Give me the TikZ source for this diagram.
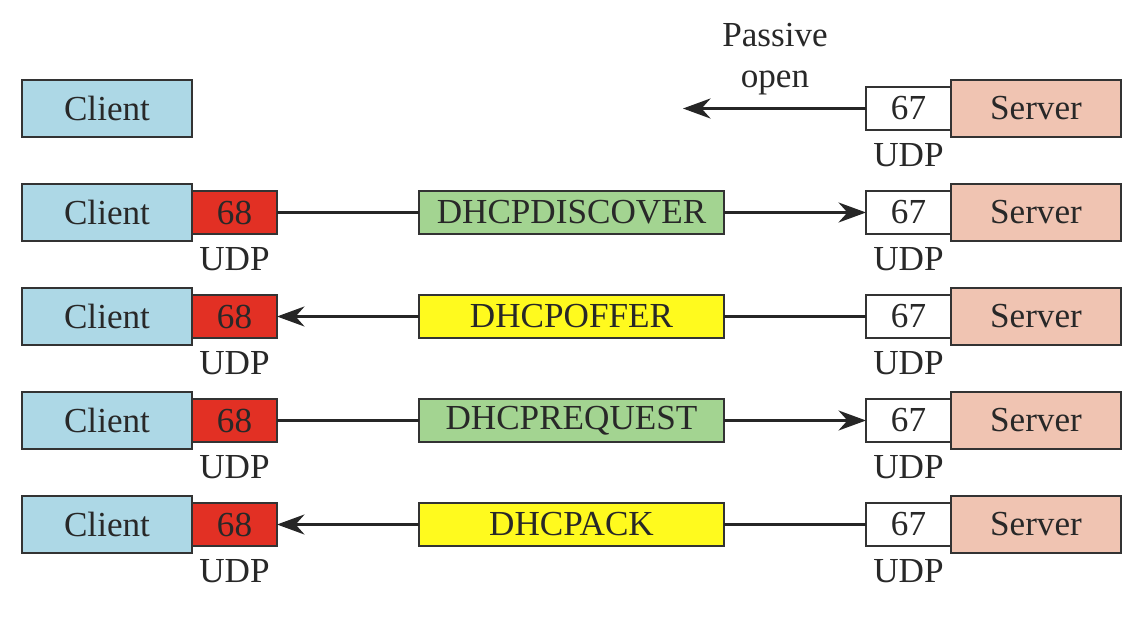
\documentclass[tikz,border=0pt]{standalone}
\usepackage{fontspec}
\setmainfont{Liberation Serif}
\usepackage{tikz}
\usetikzlibrary{arrows.meta,positioning}
\definecolor{clientblue}{RGB}{173,216,230}
\definecolor{serverpink}{RGB}{240,196,178}
\definecolor{portred}{RGB}{226,48,36}
\definecolor{msggreen}{RGB}{163,212,145}
\definecolor{msgyellow}{RGB}{255,250,30}
\definecolor{txt}{RGB}{40,40,40}
\tikzstyle{box}=[draw=black!80,line width=1.2pt,outer sep=0pt,inner sep=0pt,text=txt,font=\fontsize{20}{23}\selectfont]
\tikzstyle{client}=[box,fill=clientblue,minimum width=3.4cm,minimum height=1.14cm]
\tikzstyle{server}=[box,fill=serverpink,minimum width=3.4cm,minimum height=1.14cm]
\tikzstyle{cport}=[box,fill=portred,minimum width=1.7cm,minimum height=0.86cm]
\tikzstyle{sport}=[box,fill=white,minimum width=1.7cm,minimum height=0.86cm]
\tikzstyle{msg}=[box,minimum width=6.1cm,minimum height=0.86cm]
\tikzstyle{udp}=[inner sep=3pt,text=txt,font=\fontsize{20}{23}\selectfont]
\tikzstyle{wire}=[line width=1.6pt,draw=black!85]
\tikzstyle{post}=[wire,-{Stealth[length=0.55cm,width=0.4cm]}]

\begin{document}
\begin{tikzpicture}
        \useasboundingbox (0,0) rectangle (22.88,-12.36);
        % passive open
        \node (C0) [client] at (2.14,-2.17) {Client};
        \node (S0) [server] at (20.72,-2.17) {Server};
        \node (P0) [sport] [left=0pt of S0] {67};
        \node (U0) [udp] [below=4.5pt of P0] {UDP};
        \node (PO) [udp, align=center] at (15.5,-1.18) {Passive\\open};
        \coordinate (E0) at (13.66,-2.17);
        \draw[post, line width=2pt] (P0) -- (E0);

        % DHCPDISCOVER
        \node (C1) [client] at (2.14,-4.25) {Client};
        \node (Q1) [cport] [right=0pt of C1] {68};
        \node (V1) [udp] [below=4.5pt of Q1] {UDP};
        \node (M1) [msg, fill=msggreen] at (11.43,-4.25) {DHCPDISCOVER};
        \node (S1) [server] at (20.72,-4.25) {Server};
        \node (P1) [sport] [left=0pt of S1] {67};
        \node (U1) [udp] [below=4.5pt of P1] {UDP};
        \draw[wire] (Q1) -- (M1);
        \draw[post] (M1) -- (P1);

        % DHCPOFFER
        \node (C2) [client] at (2.14,-6.33) {Client};
        \node (Q2) [cport] [right=0pt of C2] {68};
        \node (V2) [udp] [below=4.5pt of Q2] {UDP};
        \node (M2) [msg, fill=msgyellow] at (11.43,-6.33) {DHCPOFFER};
        \node (S2) [server] at (20.72,-6.33) {Server};
        \node (P2) [sport] [left=0pt of S2] {67};
        \node (U2) [udp] [below=4.5pt of P2] {UDP};
        \draw[wire] (P2) -- (M2);
        \draw[post] (M2) -- (Q2);

        % DHCPREQUEST
        \node (C3) [client] at (2.14,-8.41) {Client};
        \node (Q3) [cport] [right=0pt of C3] {68};
        \node (V3) [udp] [below=4.5pt of Q3] {UDP};
        \node (M3) [msg, fill=msggreen] at (11.43,-8.41) {DHCPREQUEST};
        \node (S3) [server] at (20.72,-8.41) {Server};
        \node (P3) [sport] [left=0pt of S3] {67};
        \node (U3) [udp] [below=4.5pt of P3] {UDP};
        \draw[wire] (Q3) -- (M3);
        \draw[post] (M3) -- (P3);

        % DHCPACK
        \node (C4) [client] at (2.14,-10.49) {Client};
        \node (Q4) [cport] [right=0pt of C4] {68};
        \node (V4) [udp] [below=4.5pt of Q4] {UDP};
        \node (M4) [msg, fill=msgyellow] at (11.43,-10.49) {DHCPACK};
        \node (S4) [server] at (20.72,-10.49) {Server};
        \node (P4) [sport] [left=0pt of S4] {67};
        \node (U4) [udp] [below=4.5pt of P4] {UDP};
        \draw[wire] (P4) -- (M4);
        \draw[post] (M4) -- (Q4);
    \end{tikzpicture}
\end{document}
